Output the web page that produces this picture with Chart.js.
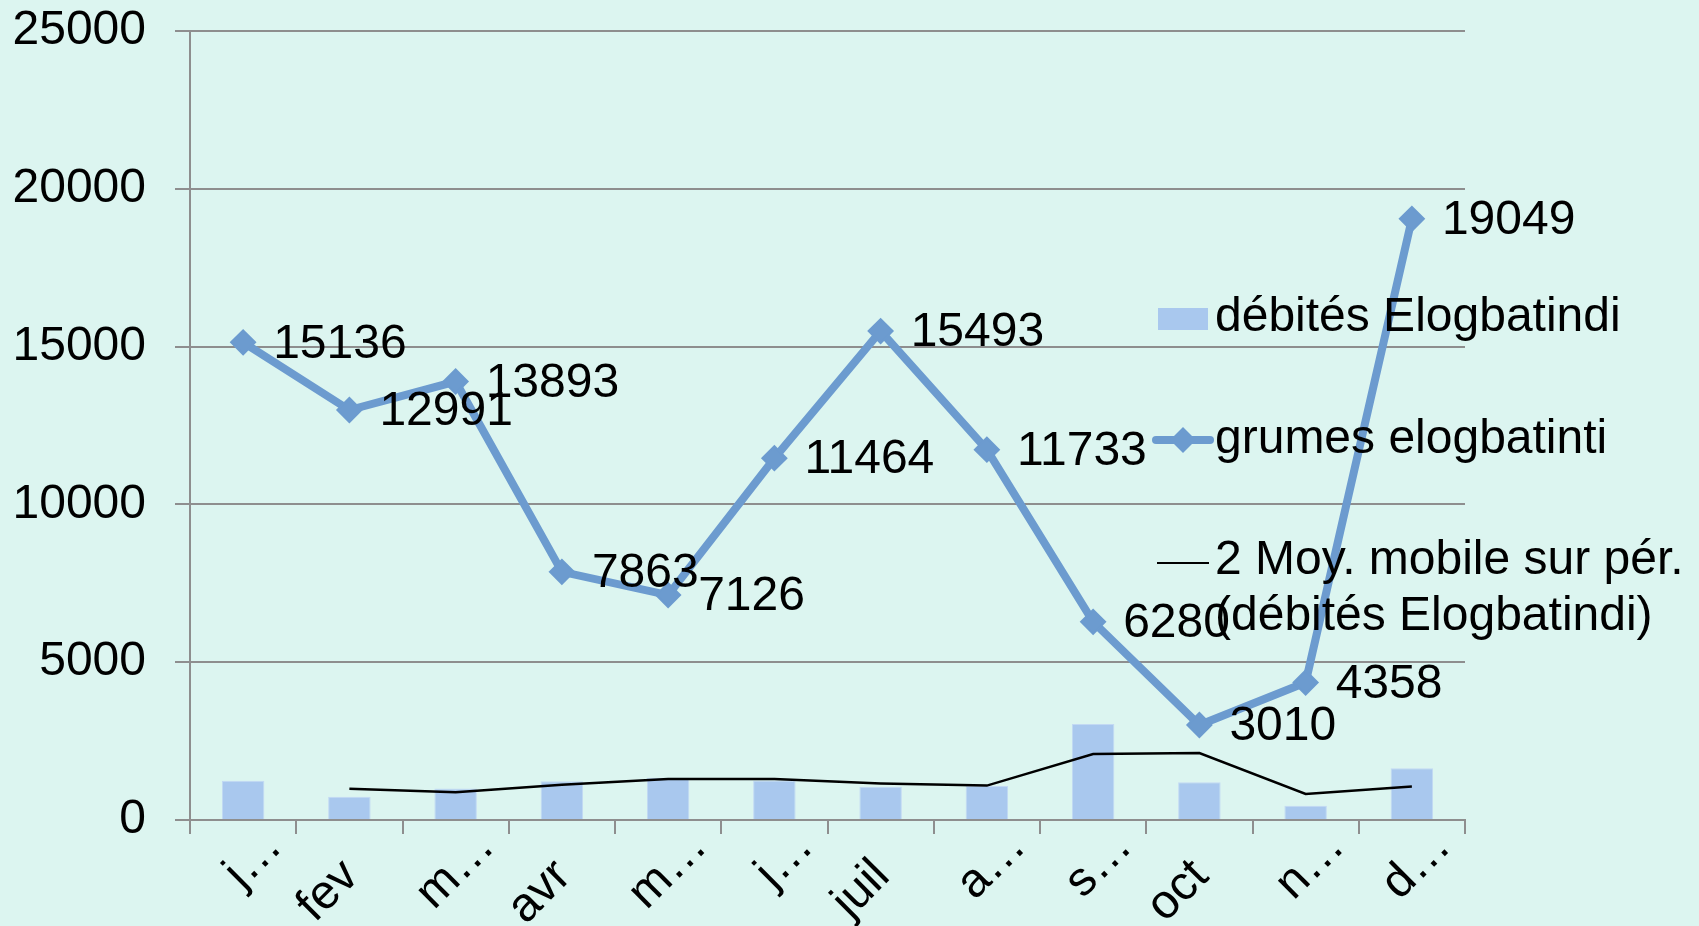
<!DOCTYPE html>
<html>
<head>
<meta charset="utf-8">
<script src="https://cdn.jsdelivr.net/npm/chart.js@4.4.0/dist/chart.umd.min.js"></script>
<style>
  html, body { margin: 0; padding: 0; background: #dcf5f0; }
  #wrap { position: relative; width: 1699px; height: 926px; overflow: hidden; }
</style>
</head>
<body>
<div id="wrap"><canvas id="chart" width="1699" height="926"></canvas></div>
<script>
// months (truncated as in the original axis)
const months = ["j…", "fev", "m…", "avr", "m…", "j…", "juil", "a…", "s…", "oct", "n…", "d…"];

// débités Elogbatindi (bars)
const debites = [1240, 740, 1000, 1230, 1340, 1250, 1050, 1080, 3040, 1200, 450, 1640];

// grumes elogbatinti (line, labelled values)
const grumes = [15136, 12991, 13893, 7863, 7126, 11464, 15493, 11733, 6280, 3010, 4358, 19049];

// 2-period moving average of débités
const moyMobile = [null, 990, 880, 1120, 1300, 1300, 1160, 1090, 2090, 2120, 824, 1060];

const yTicks = [0, 5000, 10000, 15000, 20000, 25000];

const FONT = "Liberation Sans, Arial, sans-serif";
const FSIZE = 48;
const barColor = "#a9c8ee";
const lineColor = "#6c9bcf";
const gridColor = "#8e8e8e";

// value labels to the right of each point of the grumes line
const valueLabels = {
    id: "valueLabels",
    afterDatasetsDraw(chart) {
        const ctx = chart.ctx;
        const meta = chart.getDatasetMeta(1);
        ctx.save();
        ctx.font = FSIZE + "px " + FONT;
        ctx.fillStyle = "#000";
        ctx.textAlign = "left";
        ctx.textBaseline = "middle";
        meta.data.forEach((pt, i) => {
            ctx.fillText(String(grumes[i]), pt.x + 30, pt.y + 2);
        });
        ctx.restore();
    }
};

// rotated month labels, placed like the spreadsheet does (truncated ones sit further out)
const monthLabels = {
    id: "monthLabels",
    afterDraw(chart) {
        const ctx = chart.ctx;
        const xs = chart.scales.x;
        ctx.save();
        ctx.font = FSIZE + "px " + FONT;
        ctx.fillStyle = "#000";
        ctx.textAlign = "right";
        ctx.textBaseline = "alphabetic";
        months.forEach((m, i) => {
            const x = xs.getPixelForTick(i);
            ctx.save();
            ctx.translate(x + 11, xs.top + 58);
            ctx.rotate(-Math.PI / 4);
            ctx.fillText(m, m.endsWith("…") ? 42 : 0, 0);
            ctx.restore();
        });
        ctx.restore();
    }
};

// legend drawn over the plot, as in the original
const sideLegend = {
    id: "sideLegend",
    afterDraw(chart) {
        const ctx = chart.ctx;
        ctx.save();
        ctx.font = FSIZE + "px " + FONT;
        ctx.textBaseline = "middle";

        // bars
        ctx.fillStyle = barColor;
        ctx.fillRect(1158, 308, 50, 22);
        ctx.fillStyle = "#000";
        ctx.fillText("débités Elogbatindi", 1215, 318);

        // grumes line with diamond
        ctx.strokeStyle = lineColor;
        ctx.lineWidth = 8;
        ctx.lineCap = "round";
        ctx.beginPath();
        ctx.moveTo(1156, 440);
        ctx.lineTo(1210, 440);
        ctx.stroke();
        ctx.fillStyle = lineColor;
        ctx.beginPath();
        ctx.moveTo(1183, 427);
        ctx.lineTo(1196, 440);
        ctx.lineTo(1183, 453);
        ctx.lineTo(1170, 440);
        ctx.closePath();
        ctx.fill();
        ctx.fillStyle = "#000";
        ctx.fillText("grumes elogbatinti", 1215, 440);

        // moving average
        ctx.strokeStyle = "#000";
        ctx.lineWidth = 2;
        ctx.lineCap = "butt";
        ctx.beginPath();
        ctx.moveTo(1157, 563);
        ctx.lineTo(1209, 563);
        ctx.stroke();
        ctx.fillText("2 Moy. mobile sur pér.", 1215, 561);
        ctx.fillText("(débités Elogbatindi)", 1215, 617);
        ctx.restore();
    }
};

new Chart(document.getElementById("chart"), {
    type: "bar",
    data: {
        labels: months,
        datasets: [{
            type: "bar",
            label: "débités Elogbatindi",
            data: debites,
            backgroundColor: barColor,
            borderColor: "#c3d9f3",
            borderWidth: 1,
            barPercentage: 0.4,
            categoryPercentage: 1,
            order: 3
        }, {
            type: "line",
            label: "grumes elogbatinti",
            data: grumes,
            borderColor: lineColor,
            backgroundColor: lineColor,
            borderWidth: 8,
            pointStyle: "rectRot",
            pointRadius: 12,
            pointBorderWidth: 2,
            tension: 0,
            order: 1
        }, {
            type: "line",
            label: "2 Moy. mobile sur pér. (débités Elogbatindi)",
            data: moyMobile,
            borderColor: "#000",
            borderWidth: 2.5,
            pointRadius: 0,
            tension: 0,
            order: 2
        }]
    },
    options: {
        responsive: false,
        animation: false,
        layout: { padding: { left: 0, right: 234, top: 31, bottom: 0 } },
        plugins: {
            legend: { display: false },
            tooltip: { enabled: false }
        },
        scales: {
            x: {
                offset: true,
                grid: { offset: true, drawOnChartArea: false, color: gridColor, lineWidth: 2, tickLength: 14 },
                border: { color: gridColor, width: 2 },
                ticks: { display: false, autoSkip: false },
                afterFit(scale) {
                    scale.height = 106;
                    scale.paddingLeft = 0;
                    scale.paddingRight = 0;
                }
            },
            y: {
                min: 0,
                max: 25000,
                afterBuildTicks(scale) { scale.ticks = yTicks.map(v => ({ value: v })); },
                grid: { color: gridColor, lineWidth: 2, tickLength: 15 },
                border: { color: gridColor, width: 2 },
                ticks: {
                    padding: 29,
                    color: "#000",
                    font: { family: FONT, size: FSIZE },
                    callback: v => String(v)
                },
                afterFit(scale) {
                    scale.width = 190;
                    scale.paddingTop = 0;
                    scale.paddingBottom = 0;
                }
            }
        }
    },
    plugins: [valueLabels, monthLabels, sideLegend]
});
</script>
</body>
</html>
